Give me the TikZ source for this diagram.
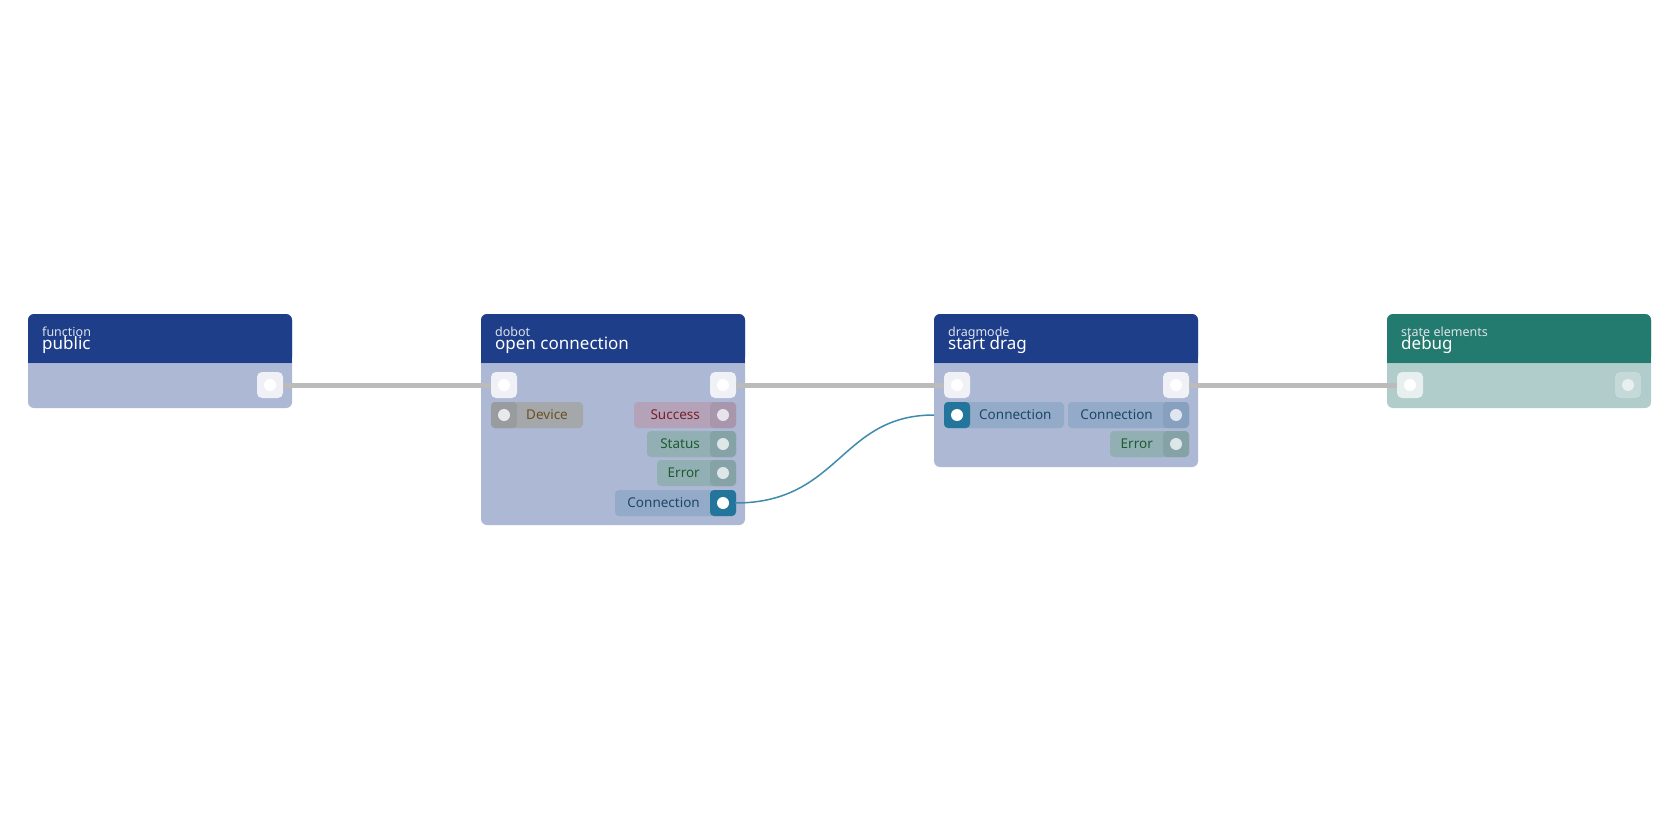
\documentclass[tikz,border=0pt]{standalone}
\usepackage{fontspec}
\setmainfont{Noto Sans}
\definecolor{hdr}{HTML}{1F3E8A}
\definecolor{bdy}{HTML}{ADB8D4}
\definecolor{ghdr}{HTML}{237A6E}
\definecolor{gbdy}{HTML}{B0CCCB}
\definecolor{wire}{HTML}{BBBBBB}
\definecolor{cwire}{HTML}{3F8AAD}
\definecolor{devf}{HTML}{A5A8AB}\definecolor{devp}{HTML}{999C9F}\definecolor{devt}{HTML}{6B5020}
\definecolor{sucf}{HTML}{B3A2B8}\definecolor{sucp}{HTML}{A796AC}\definecolor{suct}{HTML}{7A1F2A}
\definecolor{stf}{HTML}{92B0B3}\definecolor{stp}{HTML}{85A3A6}\definecolor{stt}{HTML}{1F5A30}
\definecolor{conf}{HTML}{93AAC9}\definecolor{conp}{HTML}{87A0C0}\definecolor{cont}{HTML}{1D4766}
\definecolor{conact}{HTML}{23759B}
\tikzset{
 box/.style={rounded corners=6pt},
 exec/.style={draw=none,fill=white!80!bdy,rounded corners=5pt,minimum size=26pt,inner sep=0pt},
 dot/.style={circle,fill=white,minimum size=12pt,inner sep=0pt},
 sm/.style={font=\fontsize{12.5}{12}\selectfont,text=white!85!hdr,anchor=base west,inner sep=0pt},
 big/.style={font=\fontsize{17}{17}\selectfont,text=white,anchor=base west,inner sep=0pt},
 lbl/.style={font=\fontsize{13.5}{14}\selectfont,inner sep=0pt},
}
\newcommand\pinR[9]{
 \fill[#6,rounded corners=4pt] (#2,#4-13) rectangle (#3,#4+13);
 \fill[#7,rounded corners=4pt] (#3-26,#4-13) rectangle (#3,#4+13);
 \node[dot,fill=#8] (#1) at (#3-13,#4) {};
 \node[lbl,text=#9,anchor=east] at (#3-36,#4) {#5};
}
\newcommand\pinL[9]{
 \fill[#6,rounded corners=4pt] (#2,#4-13) rectangle (#3,#4+13);
 \fill[#7,rounded corners=4pt] (#2,#4-13) rectangle (#2+26,#4+13);
 \node[dot,fill=#8] (#1) at (#2+13,#4) {};
 \node[lbl,text=#9,anchor=west] at (#2+35,#4) {#5};
}
\newcommand\nodebox[7]{% x0 x1 ybottom hdrcol bdycol small big
 \fill[#5,box] (#1,314) rectangle (#2,#3);
 \fill[#4,rounded corners=6pt] (#1,314) rectangle (#2,363);
 \fill[#4] (#1,350) rectangle (#2,363);
 \draw[white!60!#4,line width=0.6pt] (#1,363) -- (#2,363);
 \node[sm] at (#1+14,336) {#6};
 \node[big] at (#1+14,349) {#7};
}
\begin{document}
\begin{tikzpicture}[x=1pt,y=-1pt]
\useasboundingbox[fill=white] (0,0) rectangle (1680,840);
\nodebox{28}{292}{408}{hdr}{bdy}{function}{public}
\nodebox{481}{745}{525}{hdr}{bdy}{dobot}{open connection}
\nodebox{934}{1198}{467}{hdr}{bdy}{dragmode}{start drag}
\nodebox{1387}{1651}{408}{ghdr}{gbdy}{state elements}{debug}
\node[exec] (Ao) at (270,385) {}; \node[dot] at (Ao) {};
\node[exec] (Bi) at (504,385) {}; \node[dot] at (Bi) {};
\node[exec] (Bo) at (723,385) {}; \node[dot] at (Bo) {};
\node[exec] (Ci) at (957,385) {}; \node[dot] at (Ci) {};
\node[exec] (Co) at (1176,385) {}; \node[dot] at (Co) {};
\node[exec,fill=white!70!gbdy] (Di) at (1410,385) {}; \node[dot] at (Di) {};
\node[exec,fill=white!25!gbdy] (Do) at (1628,385) {}; \node[dot,fill=white!70!gbdy] at (Do) {};
\pinL{Bdev}{491}{583}{415}{Device}{devf}{devp}{white!75!devf}{devt}
\pinR{Bsuc}{634}{736}{415}{Success}{sucf}{sucp}{white!70!sucf}{suct}
\pinR{Bst}{647}{736}{444}{Status}{stf}{stp}{white!70!stf}{stt}
\pinR{Ber}{657}{736}{473}{Error}{stf}{stp}{white!70!stf}{stt}
\pinR{Bcon}{615}{736}{503}{Connection}{conf}{conact}{white}{cont}
\pinL{Ccin}{944}{1064}{415}{Connection}{conf}{conact}{white}{cont}
\pinR{Ccout}{1068}{1189}{415}{Connection}{conf}{conp}{white!70!conf}{cont}
\pinR{Cer}{1110}{1189}{444}{Error}{stf}{stp}{white!70!stf}{stt}
\draw[wire,line width=5pt] (Ao.east) -- (Bi.west);
\draw[wire,line width=5pt] (Bo.east) -- (Ci.west);
\draw[wire,line width=5pt] (Co.east) -- (Di.west);
\draw[cwire,line width=1.5pt] (Bcon.east) ++(6,0) coordinate (s) (s) .. controls (840,503) and (840,415) .. (934,415) coordinate (t);
\end{tikzpicture}
\end{document}
